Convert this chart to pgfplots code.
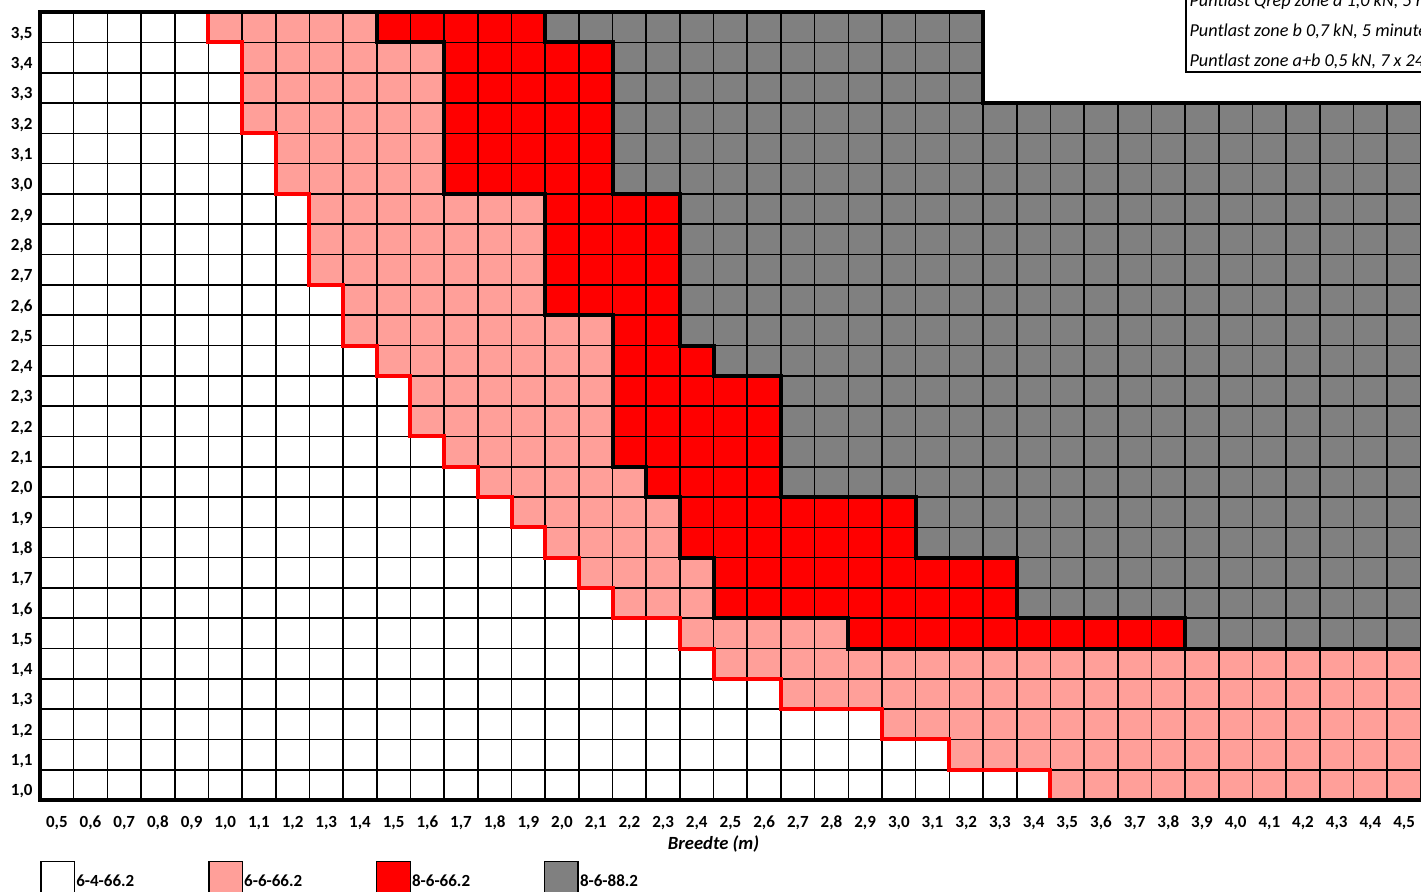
\documentclass[border=0pt]{standalone}
\usepackage{fontspec}
\setmainfont{Carlito}
\usepackage{pgfplots}
\usepackage{pgfplotstable}
\pgfplotsset{compat=1.18}

\definecolor{zpink}{RGB}{255,159,153}
\definecolor{zred}{RGB}{255,0,0}
\definecolor{zgrey}{RGB}{128,128,128}

% per column (x = cell centre): top of white, pink, red and grey part (in rows)
\pgfplotstableread{
x    w  wp wpr tot
0.5  26 26 26 26
1.5  26 26 26 26
2.5  26 26 26 26
3.5  26 26 26 26
4.5  26 26 26 26
5.5  25 26 26 26
6.5  22 26 26 26
7.5  20 26 26 26
8.5  17 26 26 26
9.5  15 26 26 26
10.5 14 25 26 26
11.5 12 25 26 26
12.5 11 20 26 26
13.5 10 20 26 26
14.5 9  20 26 26
15.5 8  16 25 26
16.5 7  16 25 26
17.5 6  11 20 26
18.5 6  10 20 26
19.5 5  8  15 26
20.5 4  6  14 26
21.5 4  6  14 26
22.5 3  6  10 26
23.5 3  6  10 26
24.5 3  5  10 26
25.5 2  5  10 26
26.5 2  5  8  26
27.5 1  5  8  26
28.5 1  5  8  23
29.5 1  5  6  23
30.5 0  5  6  23
31.5 0  5  6  23
32.5 0  5  6  23
33.5 0  5  6  23
34.5 0  5  5  23
35.5 0  5  5  23
36.5 0  5  5  23
37.5 0  5  5  23
38.5 0  5  5  23
39.5 0  5  5  23
40.5 0  5  5  23
}\cells

\begin{document}
\begin{tikzpicture}
\begin{axis}[
    x=16.84pt, y=15.15pt,
    xmin=0, xmax=41, ymin=0, ymax=26,
    clip=false,
    axis line style={draw=none},
    tick style={draw=none},
    major tick length=0pt,
    xtick={0.5,1.5,...,40.5},
    ytick={0.5,1.5,...,25.5},
    xticklabels={{0,5},{0,6},{0,7},{0,8},{0,9},{1,0},{1,1},{1,2},{1,3},{1,4},{1,5},{1,6},{1,7},{1,8},{1,9},{2,0},{2,1},{2,2},{2,3},{2,4},{2,5},{2,6},{2,7},{2,8},{2,9},{3,0},{3,1},{3,2},{3,3},{3,4},{3,5},{3,6},{3,7},{3,8},{3,9},{4,0},{4,1},{4,2},{4,3},{4,4},{4,5}},
    yticklabels={{1,0},{1,1},{1,2},{1,3},{1,4},{1,5},{1,6},{1,7},{1,8},{1,9},{2,0},{2,1},{2,2},{2,3},{2,4},{2,5},{2,6},{2,7},{2,8},{2,9},{3,0},{3,1},{3,2},{3,3},{3,4},{3,5}},
    tick label style={font=\bfseries\fontsize{8.5}{9}\selectfont, inner sep=0pt},
    xticklabel style={anchor=base, yshift=-13.5pt},
    yticklabel style={anchor=base east, xshift=-3.5pt, yshift=-5.5pt},
    xlabel={Breedte (m)},
    xlabel style={at={(axis description cs:0.4878,-0.0625)}, anchor=base,
        font=\bfseries\itshape\fontsize{9.3}{10}\selectfont},
    legend columns=4,
    reverse legend,
    legend style={draw=none, fill=none, at={(axis description cs:0,-0.07692)},
        anchor=north west, inner sep=0pt, outer sep=0pt, column sep=0pt,
        /tikz/every even column/.append style={column sep=36.3pt},
        font=\bfseries\fontsize{8.5}{9}\selectfont, nodes={inner sep=0.5pt}},
    legend image code/.code={\draw[#1, draw=black, line width=0.8pt] (0pt,-7pt) rectangle (16.84pt,10.45pt);},
]
% cells, drawn from the top part down so each covers the one above it
\addplot[ybar, bar width=1, bar shift=0pt, fill=zgrey, draw=none] table[x=x, y=tot] {\cells};
\addlegendentry{8-6-88.2}
\addplot[ybar, bar width=1, bar shift=0pt, fill=zred, draw=none] table[x=x, y=wpr] {\cells};
\addlegendentry{8-6-66.2}
\addplot[ybar, bar width=1, bar shift=0pt, fill=zpink, draw=none] table[x=x, y=wp] {\cells};
\addlegendentry{6-6-66.2}
\addplot[ybar, bar width=1, bar shift=0pt, fill=white, draw=none] table[x=x, y=w] {\cells};
\addlegendentry{6-4-66.2}

% cell grid
\addplot[ycomb, black, line width=0.8pt, forget plot] coordinates {
 (0,26) (1,26) (2,26) (3,26) (4,26) (5,26) (6,26) (7,26) (8,26) (9,26)
 (10,26) (11,26) (12,26) (13,26) (14,26) (15,26) (16,26) (17,26) (18,26) (19,26)
 (20,26) (21,26) (22,26) (23,26) (24,26) (25,26) (26,26) (27,26) (28,26)
 (29,23) (30,23) (31,23) (32,23) (33,23) (34,23) (35,23) (36,23) (37,23) (38,23)
 (39,23) (40,23) (41,23)};
\addplot[xcomb, black, line width=0.8pt, forget plot] coordinates {
 (41,0) (41,1) (41,2) (41,3) (41,4) (41,5) (41,6) (41,7) (41,8) (41,9) (41,10)
 (41,11) (41,12) (41,13) (41,14) (41,15) (41,16) (41,17) (41,18) (41,19) (41,20)
 (41,21) (41,22) (41,23) (28,24) (28,25) (28,26)};

% boundary white / 6-6-66.2
\addplot[zred, line width=2pt, forget plot] coordinates {
 (5,26) (5,25) (6,25) (6,22) (7,22) (7,20) (8,20) (8,17) (9,17) (9,15) (10,15)
 (10,14) (11,14) (11,12) (12,12) (12,11) (13,11) (13,10) (14,10) (14,9) (15,9)
 (15,8) (16,8) (16,7) (17,7) (17,6) (19,6) (19,5) (20,5) (20,4) (22,4) (22,3)
 (25,3) (25,2) (27,2) (27,1) (30,1) (30,0)};
% boundary 6-6-66.2 / 8-6-66.2
\addplot[black, line width=2pt, forget plot] coordinates {
 (10,26) (10,25) (12,25) (12,20) (15,20) (15,16) (17,16) (17,11) (18,11) (18,10)
 (19,10) (19,8) (20,8) (20,6) (24,6) (24,5) (41,5)};
% boundary 8-6-66.2 / 8-6-88.2
\addplot[black, line width=2pt, forget plot] coordinates {
 (15,26) (15,25) (17,25) (17,20) (19,20) (19,15) (20,15) (20,14) (22,14) (22,10)
 (26,10) (26,8) (29,8) (29,6) (34,6) (34,5)};
% outer frame
\addplot[black, line width=2pt, forget plot] coordinates {
 (41,23) (28,23) (28,26) (0,26) (0,0) (41,0)};

% text box
\node[draw=black, line width=0.7pt, anchor=south west, minimum width=320pt,
    minimum height=45pt, inner sep=0pt] at (axis cs:34,24) {};
\node[anchor=base west, inner sep=0pt, font=\itshape\fontsize{9.1}{10}\selectfont]
    at (axis cs:34.12,26.2) {Puntlast Qrep zone a 1,0 kN, 5 minuten};
\node[anchor=base west, inner sep=0pt, font=\itshape\fontsize{9.1}{10}\selectfont]
    at (axis cs:34.12,25.21) {Puntlast zone b 0,7 kN, 5 minuten};
\node[anchor=base west, inner sep=0pt, font=\itshape\fontsize{9.1}{10}\selectfont]
    at (axis cs:34.12,24.22) {Puntlast zone a+b 0,5 kN, 7 x 24 uur};

\coordinate (bbA) at (axis cs:-1.1876,-3.036);
\coordinate (bbB) at (axis cs:41.003,26.403);
\end{axis}
\pgfresetboundingbox
\useasboundingbox (bbA) rectangle (bbB);
\end{tikzpicture}
\end{document}
